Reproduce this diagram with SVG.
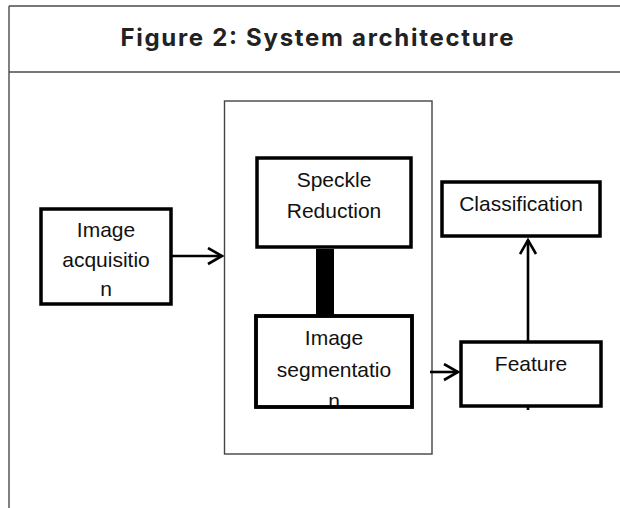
<svg xmlns="http://www.w3.org/2000/svg" width="620" height="508" viewBox="0 0 620 508">
<style>
.frame{stroke:#4a4a4a;stroke-width:1.4;fill:none}
.box{fill:#fff;stroke:#000;stroke-width:3.5}
.cont{fill:none;stroke:#444;stroke-width:1.4}
.lbl{font-family:"Liberation Sans",Arial,sans-serif;font-size:21px;fill:#111;text-anchor:middle}
.title{font-family:Inter,"Liberation Sans",sans-serif;font-weight:bold;font-size:24px;fill:#222;text-anchor:middle}
.conn{stroke:#000;stroke-width:2.6;fill:none}
</style>
<defs>
<marker id="arr" markerWidth="20" markerHeight="20" refX="15" refY="9" orient="auto" markerUnits="userSpaceOnUse">
<path d="M1,1 L15,9 L1,17" fill="none" stroke="#000" stroke-width="2.6"/>
</marker>
<clipPath id="segclip"><rect x="256" y="316" width="156" height="91"/></clipPath>
</defs>
<rect x="0" y="0" width="620" height="508" fill="#fff"/>
<g id="frame">
<line class="frame" x1="9" y1="6" x2="620" y2="6"/>
<line class="frame" x1="9" y1="6" x2="9" y2="508"/>
<line class="frame" x1="9" y1="72" x2="620" y2="72"/>
<text class="title" x="317" y="46" textLength="393" lengthAdjust="spacing">Figure 2: System architecture</text>
</g>
<g id="container">
<rect class="cont" x="224.5" y="101" width="207.5" height="353"/>
</g>
<g id="connectors">
<line class="conn" x1="172" y1="256" x2="222" y2="256" marker-end="url(#arr)"/>
<rect x="316" y="249" width="18" height="66" fill="#000"/>
<line class="conn" x1="430" y1="372" x2="458" y2="372" marker-end="url(#arr)"/>
<line class="conn" x1="528" y1="410" x2="528" y2="240" marker-end="url(#arr)"/>
</g>
<g id="image-acquisition">
<rect class="box" x="41" y="209" width="130" height="95"/>
<text class="lbl" x="106" y="237">Image</text>
<text class="lbl" x="106" y="267">acquisitio</text>
<text class="lbl" x="106" y="296">n</text>
</g>
<g id="speckle-reduction">
<rect class="box" x="257" y="158" width="154" height="89"/>
<text class="lbl" x="334" y="187">Speckle</text>
<text class="lbl" x="334" y="218">Reduction</text>
</g>
<g id="image-segmentation">
<rect class="box" x="256" y="316" width="156" height="91"/>
<g clip-path="url(#segclip)">
<text class="lbl" x="334" y="345">Image</text>
<text class="lbl" x="334" y="377">segmentatio</text>
<text class="lbl" x="334" y="408">n</text>
</g>
<rect x="256" y="316" width="156" height="91" fill="none" stroke="#000" stroke-width="3.5"/>
</g>
<g id="classification">
<rect class="box" x="442" y="182" width="158" height="54"/>
<text class="lbl" x="521" y="211">Classification</text>
</g>
<g id="feature">
<rect class="box" x="461" y="342" width="140" height="64"/>
<text class="lbl" x="531" y="371">Feature</text>
</g>
</svg>
